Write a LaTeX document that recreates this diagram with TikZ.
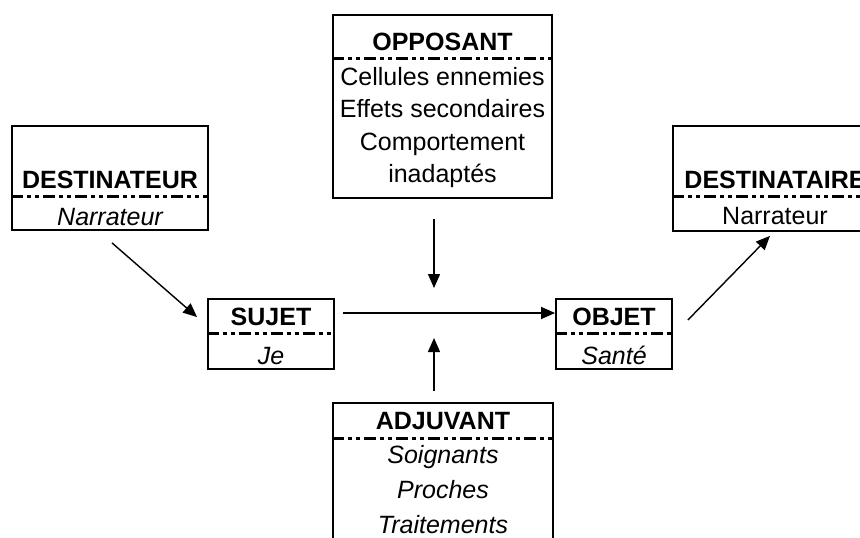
\documentclass[tikz,border=0pt]{standalone}
\usepackage{fontspec}
\setmainfont{Liberation Sans}
\usetikzlibrary{arrows.meta, calc}

\tikzset{
  boite/.style={draw, line width=1.8pt, inner sep=0pt},
  titre/.style={anchor=base, font=\fontsize{25}{32.5}\selectfont\bfseries},
  contenu/.style={anchor=base, align=center},
  separation/.style={line width=3pt, dash pattern=on 12pt off 4pt on 4pt off 4pt on 4pt off 4pt},
  fleche/.style={-{Triangle[length=14pt, width=12pt]}, line width=1.4pt},
}

\begin{document}
\begin{tikzpicture}[x=1pt, y=-1pt, font=\fontsize{25}{32.5}\selectfont]
    \clip (0,0) rectangle (860,538);
    \fill[white] (0,0) rectangle (860,538);

    % cadres
    \node[boite, minimum width=196pt, minimum height=104pt] (Destinateur) at (110,178) {};
    \node[boite, minimum width=219pt, minimum height=183pt] (Opposant) at (442.5,106.5) {};
    \node[boite, minimum width=204pt, minimum height=105pt] (Destinataire) at (775,178.5) {};
    \node[boite, minimum width=126pt, minimum height=70pt] (Sujet) at (271,334) {};
    \node[boite, minimum width=116pt, minimum height=70pt] (Objet) at (614,334) {};
    \node[boite, minimum width=220pt, minimum height=150pt] (Adjuvant) at (443,478) {};

    % lignes de separation
    \draw[separation] (Destinateur.west |- 0,196) -- (Destinateur.east |- 0,196);
    \draw[separation] (Opposant.west |- 0,58) -- (Opposant.east |- 0,58);
    \draw[separation] (Destinataire.west |- 0,196) -- (Destinataire.east |- 0,196);
    \draw[separation] (Sujet.west |- 0,333) -- (Sujet.east |- 0,333);
    \draw[separation] (Objet.west |- 0,333) -- (Objet.east |- 0,333);
    \draw[separation] (Adjuvant.west |- 0,438) -- (Adjuvant.east |- 0,438);

    % textes (base = derniere ligne)
    \node[titre] (DestinateurT) at (110,188) {DESTINATEUR};
    \node[contenu] (DestinateurC) at (110,225) {\itshape Narrateur};
    \node[titre] (OpposantT) at (442.5,50) {OPPOSANT};
    \node[contenu] (OpposantC) at (442.5,182.5) {Cellules ennemies\\Effets secondaires\\Comportement\\inadaptés};
    \node[titre] (DestinataireT) at (775,188) {DESTINATAIRE};
    \node[contenu] (DestinataireC) at (775,224) {Narrateur};
    \node[titre] (SujetT) at (271,325) {SUJET};
    \node[contenu] (SujetC) at (271,364) {\itshape Je};
    \node[titre] (ObjetT) at (614,325) {OBJET};
    \node[contenu] (ObjetC) at (614,364) {\itshape Santé};
    \node[titre] (AdjuvantT) at (443,429) {ADJUVANT};
    \node[contenu, font=\fontsize{25}{35}\selectfont\itshape] (AdjuvantC) at (443,533) {Soignants\\Proches\\Traitements};

    % fleches
    \coordinate (centre) at (434,313);
    \draw[fleche] ($(Destinateur.south)+(2,12)$) -- ($(Sujet.north west)+(-10,19)$);
    \draw[fleche] ($(Sujet.east)+(8,-21)$) -- ($(Objet.west)+(0,-21)$);
    \draw[fleche] ($(Objet.east)+(15,-14)$) -- ($(Destinataire.south)+(-5,4)$);
    \draw[fleche] ($(Opposant.south -| centre)+(0,20)$) -- ($(centre)+(0,-25)$);
    \draw[fleche] ($(Adjuvant.north -| centre)+(0,-11)$) -- ($(centre)+(0,25)$);
\end{tikzpicture}
\end{document}
